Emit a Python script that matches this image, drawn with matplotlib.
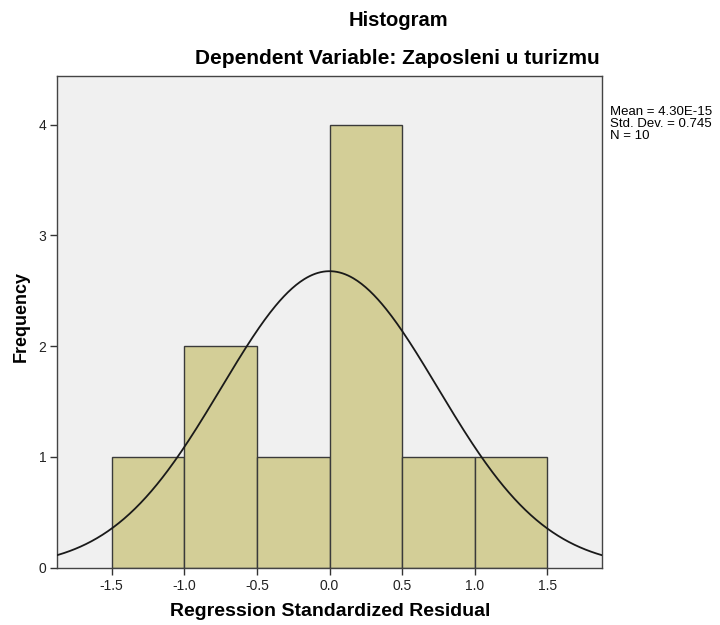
import numpy as np
import matplotlib
matplotlib.use("Agg")
import matplotlib.pyplot as plt

# Data
bin_edges = [-1.5, -1.0, -0.5, 0.0, 0.5, 1.0, 1.5]
counts = [1, 2, 1, 4, 1, 1]
mean = 4.30e-15
std = 0.745
n = 10
x_ticks = [-1.5, -1.0, -0.5, 0.0, 0.5, 1.0, 1.5]
y_ticks = [0, 1, 2, 3, 4]

plt.rcParams['font.family'] = ['Liberation Sans', 'DejaVu Sans']

fig = plt.figure(figsize=(7.2, 6.25), dpi=100)
ax = fig.add_axes([57.3/720, 1-567.7/625, (601.7-57.3)/720, (567.7-76)/625])
ax.set_facecolor('#f0f0f0')

lefts = bin_edges[:-1]
widths = np.diff(bin_edges)
ax.bar(lefts, counts, width=widths, align='edge', color='#d3ce97',
       edgecolor='#3a3a3a', linewidth=1.0, zorder=2)

xs = np.linspace(-1.873, 1.873, 400)
bw = widths[0]
ys = n * bw / (std * np.sqrt(2*np.pi)) * np.exp(-0.5*((xs-mean)/std)**2)
ax.plot(xs, ys, color='#1a1a1a', linewidth=1.3, zorder=3)

ax.set_xlim(-1.873, 1.873)
ax.set_ylim(0, 4.44)
ax.set_xticks(x_ticks)
ax.set_xticklabels([f"{v:.1f}" for v in x_ticks])
ax.set_yticks(y_ticks)
ax.tick_params(direction='out', length=5, width=1, colors='#333333',
               labelsize=10, labelcolor='#222222')
ax.tick_params(axis='x', pad=3)
ax.tick_params(axis='y', pad=3)
for s in ax.spines.values():
    s.set_color('#444444')
    s.set_linewidth(1.0)

fig.text(330/720, 1-612/625, 'Regression Standardized Residual', ha='center', va='center',
         fontsize=14, fontweight='bold')
fig.text(21/720, 1-316/625, 'Frequency', ha='center', va='center', rotation=90,
         fontsize=13, fontweight='bold')

fig.text(398/720, 1-21/625, 'Histogram', ha='center', va='center', fontsize=14.5, fontweight='bold')
fig.text(600/720, 1-59/625, 'Dependent Variable: Zaposleni u turizmu', ha='right', va='center',
         fontsize=15, fontweight='bold')
fig.text(610/720, 1-124/625, f'Mean = 4.30E-15\nStd. Dev. = {std}\nN = {n}',
         ha='left', va='center', fontsize=9.5, linespacing=0.95)

fig.savefig('out.png', dpi=100)
